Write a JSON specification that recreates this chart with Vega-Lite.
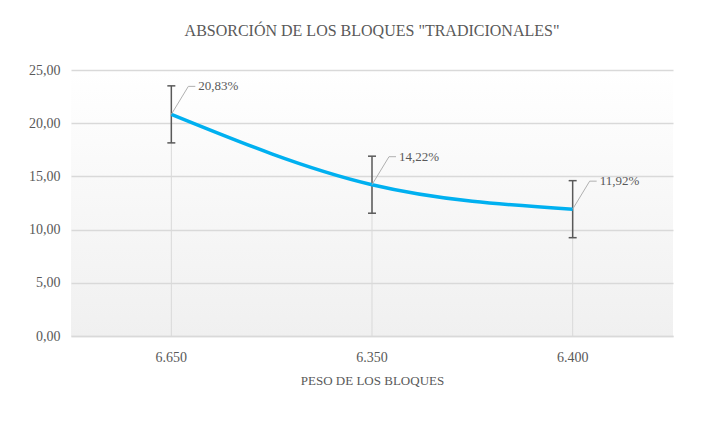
{
  "$schema": "https://vega.github.io/schema/vega-lite/v6.json",
  "width": 602,
  "height": 266,
  "autosize": {"type": "none"},
  "padding": {"left": 71, "top": 70, "right": 45, "bottom": 87},
  "background": "white",
  "title": {
    "text": "ABSORCIÓN DE LOS BLOQUES \"TRADICIONALES\"",
    "font": "Liberation Serif",
    "fontSize": 16,
    "fontWeight": "normal",
    "color": "#595959",
    "offset": 24
  },
  "config": {
    "font": "Liberation Serif",
    "view": {
      "stroke": null,
      "fill": {
        "gradient": "linear",
        "x1": 0, "y1": 0, "x2": 0, "y2": 1,
        "stops": [
          {"offset": 0, "color": "#ffffff"},
          {"offset": 1, "color": "#f0f0f0"}
        ]
      }
    },
    "locale": {
      "number": {"decimal": ",", "thousands": ".", "grouping": [3], "currency": ["", " €"]}
    }
  },
  "data": {
    "values": [
      {"peso": "6.650", "abs": 20.83, "lo": 18.15, "hi": 23.51},
      {"peso": "6.350", "abs": 14.22, "lo": 11.54, "hi": 16.90},
      {"peso": "6.400", "abs": 11.92, "lo": 9.24, "hi": 14.60}
    ]
  },
  "transform": [
    {"calculate": "format(datum.abs, '.2f') + '%'", "as": "label"}
  ],
  "encoding": {
    "x": {
      "field": "peso",
      "type": "nominal",
      "sort": null,
      "scale": {"paddingInner": 0, "paddingOuter": 0},
      "axis": {
        "orient": "bottom",
        "domain": true,
        "domainColor": "#d9d9d9",
        "domainWidth": 1.3,
        "ticks": false,
        "grid": false,
        "labelAngle": 0,
        "labelFont": "Liberation Serif",
        "labelFontSize": 14,
        "labelColor": "#595959",
        "labelPadding": 14,
        "title": "PESO DE LOS BLOQUES",
        "titleFont": "Liberation Serif",
        "titleFontSize": 13,
        "titleFontWeight": "normal",
        "titleColor": "#595959",
        "titlePadding": 10
      }
    }
  },
  "layer": [
    {
      "mark": {"type": "rule", "color": "#d9d9d9", "strokeWidth": 1},
      "encoding": {
        "y": {
          "field": "abs",
          "type": "quantitative",
          "scale": {"domain": [0, 25], "nice": false},
          "axis": {
            "values": [0, 5, 10, 15, 20, 25],
            "format": ".2f",
            "grid": true,
            "gridColor": "#d9d9d9",
            "gridWidth": 1.3,
            "domain": false,
            "ticks": false,
            "labelFont": "Liberation Serif",
            "labelFontSize": 14,
            "labelColor": "#595959",
            "labelPadding": 11,
            "title": null
          }
        },
        "y2": {"datum": 0}
      }
    },
    {
      "mark": {"type": "rule", "color": "#595959", "strokeWidth": 1.5},
      "encoding": {
        "y": {"field": "lo", "type": "quantitative"},
        "y2": {"field": "hi"}
      }
    },
    {
      "mark": {"type": "tick", "color": "#595959", "size": 8, "thickness": 1.5, "opacity": 1},
      "encoding": {"y": {"field": "lo", "type": "quantitative"}}
    },
    {
      "mark": {"type": "tick", "color": "#595959", "size": 8, "thickness": 1.5, "opacity": 1},
      "encoding": {"y": {"field": "hi", "type": "quantitative"}}
    },
    {
      "mark": {"type": "line", "color": "#00B0F0", "strokeWidth": 3.5, "interpolate": "monotone"},
      "encoding": {"y": {"field": "abs", "type": "quantitative"}}
    },
    {
      "mark": {"type": "rule", "color": "#b0b0b0", "strokeWidth": 1, "x2Offset": 17, "y2Offset": -28},
      "encoding": {
        "y": {"field": "abs", "type": "quantitative"},
        "y2": {"field": "abs"},
        "x2": {"field": "peso"}
      }
    },
    {
      "mark": {"type": "rule", "color": "#b0b0b0", "strokeWidth": 1, "xOffset": 17, "x2Offset": 24, "yOffset": -28, "y2Offset": -28},
      "encoding": {
        "y": {"field": "abs", "type": "quantitative"},
        "y2": {"field": "abs"},
        "x2": {"field": "peso"}
      }
    },
    {
      "mark": {"type": "text", "align": "left", "baseline": "middle", "dx": 27, "dy": -28, "font": "Liberation Serif", "fontSize": 13, "color": "#595959"},
      "encoding": {
        "y": {"field": "abs", "type": "quantitative"},
        "text": {"field": "label"}
      }
    }
  ]
}
